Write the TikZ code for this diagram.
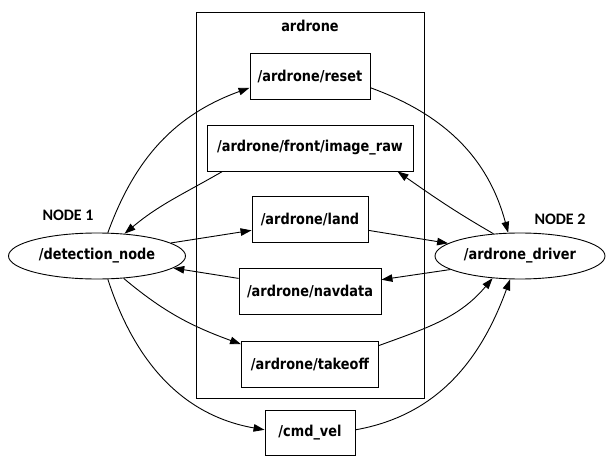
\documentclass[tikz,border=0pt]{standalone}
\usepackage{fontspec}
\newfontfamily\lblfont{DejaVu Sans}[FakeStretch=0.86]
\newfontfamily\tagfont{Carlito}
\usetikzlibrary{shapes.geometric,arrows.meta}
\begin{document}
\begin{tikzpicture}[x=1pt,y=1pt,line width=0.9pt,
        topic/.style={draw,rectangle,inner sep=0pt,minimum height=46pt,font={\lblfont\bfseries\fontsize{15}{17}\selectfont}},
        rosnode/.style={draw,ellipse,inner sep=0pt,minimum height=46pt,font={\lblfont\bfseries\fontsize{15}{17}\selectfont}},
        tag/.style={font={\tagfont\bfseries\fontsize{16}{18}\selectfont}},
        msg/.style={-{Triangle[length=11pt,width=7.5pt]}}]
        \useasboundingbox (0,0) rectangle (608,459);
        % cluster
        \node [draw,inner sep=0pt,minimum width=228pt,minimum height=386pt] (ardrone) at (310,254) {};
        \node [font={\lblfont\bfseries\fontsize{15}{17}\selectfont}] (ardronelbl) at (310,433) {ardrone};
        % topics
        \node [topic,minimum width=120pt] (reset) at (310,383) {/ardrone/reset};
        \node [topic,minimum width=206pt] (image) at (310,311) {/ardrone/front/image\_raw};
        \node [topic,minimum width=116pt] (land) at (310,240) {/ardrone/land};
        \node [topic,minimum width=142pt] (navdata) at (310,168) {/ardrone/navdata};
        \node [topic,minimum width=137pt] (takeoff) at (310,95) {/ardrone/takeoff};
        \node [topic,minimum width=90pt,minimum height=45pt] (cmdvel) at (310,26) {/cmd\_vel};
        % nodes
        \node [rosnode,minimum width=177pt] (det) at (97,203) {/detection\_node};
        \node [rosnode,minimum width=170pt] (drv) at (520,203) {/ardrone\_driver};
        \node [tag] (tag1) at (68,244) {NODE 1};
        \node [tag] (tag2) at (560,240) {NODE 2};
        % edges
        \draw [msg] (det.65) to [out=70,in=200] (reset.191);
        \draw [msg] (reset.-11) to [out=-20,in=105] (drv.117);
        \draw [msg] (drv.140) to [out=150,in=-35] (image.-15);
        \draw [msg] (image.195) to [out=210,in=40] (det.39);
        \draw [msg] (det.10) -- (land.191);
        \draw [msg] (land.-11) -- (drv.170);
        \draw [msg] (drv.191) -- (navdata.9);
        \draw [msg] (navdata.170) -- (det.-9);
        \draw [msg] (det.-40) to [out=-40,in=160] (takeoff.164);
        \draw [msg] (takeoff.15) to [out=20,in=230] (drv.219);
        \draw [msg] (det.-65) to [out=-72,in=170] (cmdvel.176);
        \draw [msg] (cmdvel.4) to [out=10,in=250] (drv.247);
    \end{tikzpicture}
\end{document}
